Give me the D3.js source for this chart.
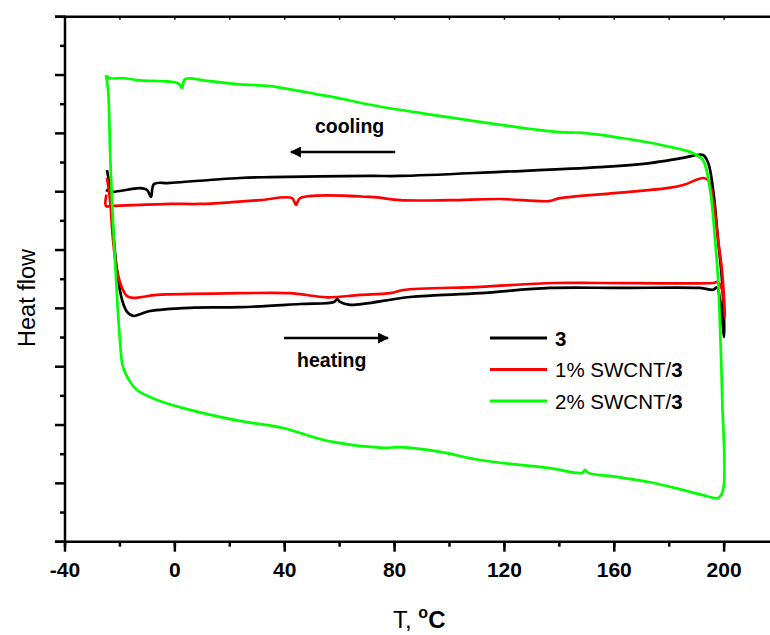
<!DOCTYPE html>
<html>
<head>
<meta charset="utf-8">
<script src="https://cdn.jsdelivr.net/npm/d3@7"></script>
<style>
  html, body { margin: 0; padding: 0; background: #fff; }
  svg { display: block; font-family: "Liberation Sans", Arial, sans-serif; }
</style>
</head>
<body>
<div id="chart"></div>
<script>
// DSC traces: [T (°C), heat flow (arb.)], heating run followed by cooling run
var SERIES_NAMES = ["3", "1% SWCNT/", "2% SWCNT/"];
var SERIES_COLORS = ["#000000", "#ff0000", "#00ff00"];

var neat = [
  [-24.7, 6.37], [-23.6, 6.03], [-22.5, 5.34], [-21.1, 4.66], [-19.2, 4.14], [-17.4, 3.94],
  [-15.2, 3.87], [-12.7, 3.90], [-9.0, 3.955], [5.5, 4.01], [23.7, 4.02], [45.6, 4.075],
  [58.0, 4.11], [59.1, 4.16], [60.1, 4.11], [63.8, 4.06], [85.6, 4.195], [111.1, 4.26],
  [136.6, 4.35], [162.1, 4.35], [191.2, 4.35], [196.0, 4.32], [197.4, 4.36], [198.5, 4.14],
  [200.0, 3.51],
  [199.3, 4.435], [197.8, 5.17], [196.0, 6.03], [194.2, 6.49], [192.3, 6.63], [185.1, 6.58],
  [173.0, 6.49], [154.8, 6.42], [118.4, 6.34], [82.0, 6.27], [71.1, 6.27], [34.65, 6.25],
  [23.7, 6.235], [-1.8, 6.15], [-7.6, 6.13], [-8.7, 5.91], [-10.1, 6.03], [-12.7, 6.06],
  [-22.9, 6.0], [-25.1, 6.03]
];

var swcnt1 = [
  [-24.7, 6.235], [-23.6, 5.86], [-22.5, 5.17], [-21.1, 4.66], [-19.2, 4.35], [-17.4, 4.21],
  [-15.2, 4.18], [-12.7, 4.19], [-6.5, 4.23], [23.7, 4.26], [41.9, 4.26], [55.4, 4.19],
  [67.4, 4.23], [78.4, 4.26], [83.1, 4.315], [111.1, 4.37], [137.7, 4.435], [154.8, 4.435],
  [196.0, 4.435], [197.8, 4.45], [199.3, 4.315], [200.3, 3.85],
  [199.3, 4.61], [197.8, 5.17], [196.0, 5.86], [194.2, 6.20], [192.3, 6.235], [185.1, 6.115],
  [179.2, 6.06], [161.0, 5.98], [140.3, 5.89], [136.3, 5.84], [118.4, 5.875], [100.2, 5.855],
  [82.0, 5.855], [71.1, 5.91], [45.6, 5.89], [44.1, 5.77], [42.7, 5.89], [31.0, 5.855],
  [20.8, 5.82], [9.2, 5.79], [-1.8, 5.79], [-22.9, 5.755], [-25.1, 5.755], [-24.9, 5.95]
];

var swcnt2 = [
  [-25.1, 8.00], [-24.3, 7.74], [-23.6, 6.715], [-22.9, 5.855], [-21.4, 4.49], [-20.0, 3.46],
  [-18.9, 2.995], [-16.3, 2.74], [-13.8, 2.60], [-6.5, 2.43], [5.5, 2.26], [23.7, 2.07],
  [39.4, 1.95], [49.2, 1.81], [57.6, 1.71], [75.8, 1.61], [82.0, 1.62], [96.6, 1.54],
  [111.1, 1.40], [136.6, 1.26], [148.3, 1.18], [149.4, 1.23], [150.5, 1.18], [161.0, 1.11],
  [173.0, 1.02], [185.1, 0.886], [193.8, 0.78], [197.8, 0.75], [199.6, 0.886],
  [199.3, 2.43], [198.9, 3.115], [197.8, 4.49], [196.7, 5.17], [194.9, 6.03], [192.3, 6.54],
  [188.7, 6.66], [179.2, 6.78], [166.8, 6.89], [148.6, 7.01], [140.3, 7.02], [89.3, 7.35],
  [71.1, 7.49], [61.2, 7.59], [52.9, 7.66], [34.65, 7.81], [23.7, 7.84], [11.7, 7.90],
  [3.7, 7.93], [2.6, 7.78], [1.15, 7.86], [-12.7, 7.91], [-18.9, 7.945], [-23.6, 7.945],
  [-24.7, 7.98]
];

var X_TICKS = [-40, 0, 40, 80, 120, 160, 200];
var X_MINOR = [-40, -20, 0, 20, 40, 60, 80, 100, 120, 140, 160, 180, 200];
var Y_MAJOR = [0, 1, 2, 3, 4, 5, 6, 7, 8, 9];
var Y_MINOR = [0.5, 1.5, 2.5, 3.5, 4.5, 5.5, 6.5, 7.5, 8.5];

(function () {
  var W = 770, H = 635;
  var mL = 65, mT = 16.7, mB = 541.7, mR = 770;

  var x = d3.scaleLinear().domain([-40, 216.7]).range([mL, mR]);
  var y = d3.scaleLinear().domain([0, 9]).range([mB, mT]);

  var svg = d3.select("#chart").append("svg").attr("width", W).attr("height", H);

  // curves (centripetal Catmull-Rom keeps the knees round without overshoot)
  var line = d3.line()
    .x(function (d) { return x(d[0]); })
    .y(function (d) { return y(d[1]); })
    .curve(d3.curveCatmullRom.alpha(0.5));
  var data = [neat, swcnt1, swcnt2];
  svg.append("g").selectAll("path").data(data).join("path")
    .attr("d", line)
    .attr("fill", "none")
    .attr("stroke", function (d, i) { return SERIES_COLORS[i]; })
    .attr("stroke-width", 2.7)
    .attr("stroke-linejoin", "round");

  // axes
  var ax = svg.append("g").attr("stroke", "#000").attr("stroke-width", 2.5);
  ax.append("line").attr("x1", mL).attr("x2", mL).attr("y1", mT - 1).attr("y2", mB + 1);
  ax.append("line").attr("x1", mL - 10).attr("x2", mR).attr("y1", mB).attr("y2", mB);
  ax.append("line").attr("x1", mL - 10).attr("x2", mR).attr("y1", mT).attr("y2", mT);

  ax.selectAll(".ym").data(Y_MAJOR).join("line")
    .attr("x1", mL - 10).attr("x2", mL).attr("y1", y).attr("y2", y);
  ax.selectAll(".yn").data(Y_MINOR).join("line")
    .attr("x1", mL - 5).attr("x2", mL).attr("y1", y).attr("y2", y);

  ax.selectAll(".xm").data(X_TICKS).join("line")
    .attr("x1", x).attr("x2", x).attr("y1", mB).attr("y2", mB + 10);
  ax.selectAll(".xn").data(X_MINOR).join("line")
    .attr("x1", x).attr("x2", x).attr("y1", mB).attr("y2", mB + 5);
  ax.selectAll(".xt").data(X_MINOR).join("line")
    .attr("stroke-width", 1.5)
    .attr("x1", x).attr("x2", x).attr("y1", mT).attr("y2", mT + 3);

  svg.append("g").selectAll("text").data(X_TICKS).join("text")
    .attr("x", x).attr("y", 577)
    .attr("text-anchor", "middle")
    .attr("font-size", 21).attr("font-weight", "bold")
    .text(function (d) { return d; });

  // axis titles
  svg.append("text")
    .attr("transform", "translate(35,298) rotate(-90)")
    .attr("text-anchor", "middle")
    .attr("font-size", 23.5)
    .text("Heat flow");

  var xt = svg.append("text").attr("x", 393).attr("y", 628).attr("font-size", 24);
  xt.append("tspan").text("T, ");
  xt.append("tspan").attr("font-weight", "bold").attr("font-size", 16).attr("dy", -10).text("o");
  xt.append("tspan").attr("font-weight", "bold").attr("dy", 10).text("C");

  // annotations
  var defs = svg.append("defs");
  defs.append("marker").attr("id", "ah").attr("viewBox", "0 0 10 10")
    .attr("refX", 9).attr("refY", 5).attr("markerWidth", 6).attr("markerHeight", 4.4)
    .attr("orient", "auto")
    .append("path").attr("d", "M0,0L10,5L0,10Z").attr("fill", "#000");

  svg.append("line")
    .attr("x1", x(80.2)).attr("x2", x(42.3)).attr("y1", y(6.68)).attr("y2", y(6.68))
    .attr("stroke", "#000").attr("stroke-width", 2.5).attr("marker-end", "url(#ah)");
  svg.append("text").attr("x", x(51.0)).attr("y", y(7.0))
    .attr("font-size", 19.5).attr("font-weight", "bold").text("cooling");

  svg.append("line")
    .attr("x1", x(39.75)).attr("x2", x(77.6)).attr("y1", y(3.49)).attr("y2", y(3.49))
    .attr("stroke", "#000").attr("stroke-width", 2.5).attr("marker-end", "url(#ah)");
  svg.append("text").attr("x", x(44.5)).attr("y", y(3.0))
    .attr("font-size", 19.5).attr("font-weight", "bold").text("heating");

  // legend
  var lg = svg.append("g").attr("transform", "translate(490,338)");
  var item = lg.selectAll("g").data(SERIES_NAMES).join("g")
    .attr("transform", function (d, i) { return "translate(0," + (i * 31.5) + ")"; });
  item.append("line").attr("x1", 0).attr("x2", 57).attr("y1", 0).attr("y2", 0)
    .attr("stroke", function (d, i) { return SERIES_COLORS[i]; }).attr("stroke-width", 3);
  var lt = item.append("text").attr("x", 65).attr("y", 7.5).attr("font-size", 20.5);
  lt.append("tspan").attr("font-weight", function (d, i) { return i === 0 ? "bold" : null; })
    .text(function (d) { return d; });
  lt.filter(function (d, i) { return i > 0; }).append("tspan").attr("font-weight", "bold").text("3");
})();
</script>
</body>
</html>
